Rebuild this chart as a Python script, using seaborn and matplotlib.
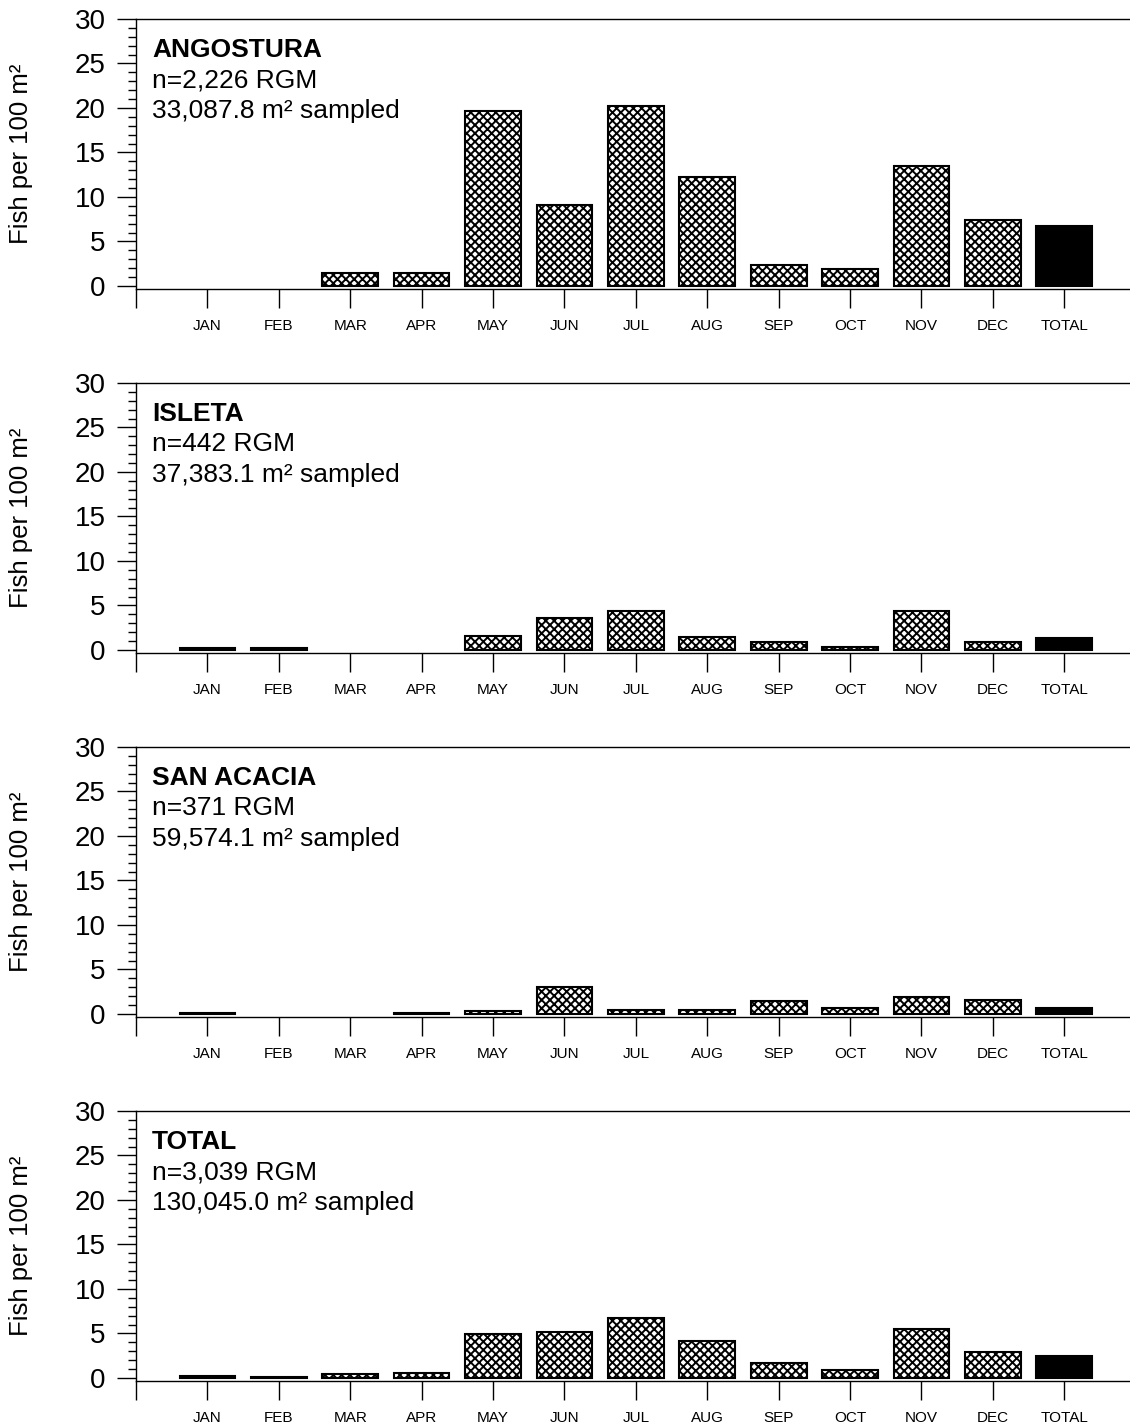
import matplotlib
matplotlib.use("Agg")
import matplotlib.pyplot as plt
from matplotlib.ticker import MultipleLocator
import seaborn as sns
import pandas as pd

months = ["JAN", "FEB", "MAR", "APR", "MAY", "JUN", "JUL", "AUG", "SEP", "OCT", "NOV", "DEC", "TOTAL"]

angostura = [0.0, 0.0, 1.4, 1.5, 19.7, 9.1, 20.2, 12.2, 2.4, 1.9, 13.5, 7.4, 6.7]
isleta = [0.25, 0.2, 0.0, 0.0, 1.6, 3.6, 4.4, 1.5, 0.9, 0.3, 4.4, 0.9, 1.3]
san_acacia = [0.15, 0.0, 0.0, 0.1, 0.3, 3.0, 0.4, 0.45, 1.5, 0.65, 1.9, 1.6, 0.65]
total = [0.2, 0.15, 0.45, 0.6, 4.9, 5.2, 6.7, 4.2, 1.7, 0.9, 5.5, 2.9, 2.5]

titles = ["ANGOSTURA", "ISLETA", "SAN ACACIA", "TOTAL"]
n_lines = ["n=2,226 RGM", "n=442 RGM", "n=371 RGM", "n=3,039 RGM"]
area_lines = ["33,087.8 m\u00b2 sampled", "37,383.1 m\u00b2 sampled",
              "59,574.1 m\u00b2 sampled", "130,045.0 m\u00b2 sampled"]
series = [angostura, isleta, san_acacia, total]

sns.set_theme(style="ticks")
plt.rcParams["font.family"] = ["Liberation Sans", "DejaVu Sans"]
plt.rcParams["text.color"] = "black"
plt.rcParams["axes.labelcolor"] = "black"
plt.rcParams["xtick.color"] = "black"
plt.rcParams["ytick.color"] = "black"
plt.rcParams["axes.edgecolor"] = "black"
plt.rcParams["hatch.linewidth"] = 1.4

W, H = 1130, 1423
fig = plt.figure(figsize=(W / 100, H / 100), dpi=100)

panel_tops = [19, 383, 747, 1111]
ax_h = 270
left_px = 136

for i, vals in enumerate(series):
    top = panel_tops[i]
    ax = fig.add_axes([left_px / W, 1 - (top + ax_h) / H, 1 - left_px / W, ax_h / H])
    df = pd.DataFrame({"month": months, "value": vals})
    sns.barplot(data=df, x="month", y="value", order=months, color="white",
                edgecolor="black", linewidth=1.5, width=0.78, errorbar=None,
                saturation=1, ax=ax)
    for j, p in enumerate(ax.patches):
        if vals[j] == 0:
            p.set_visible(False)
            continue
        if months[j] == "TOTAL":
            p.set_facecolor("black")
        else:
            p.set_facecolor("white")
            p.set_hatch("xxxx")
        p.set_edgecolor("black")

    ax.set_xlim(-1, 12.92)
    ax.set_ylim(-0.35, 30)
    ax.set_xticks(range(-1, 13))
    ax.set_xticklabels([""] + months, fontsize=11)
    ax.set_yticks(range(0, 31, 5))
    ax.set_yticklabels([str(v) for v in range(0, 31, 5)], fontsize=20)
    ax.yaxis.set_minor_locator(MultipleLocator(1))
    ax.tick_params(axis="y", which="major", direction="out", length=13.5, width=1.0, pad=8.5, colors="black")
    ax.tick_params(axis="y", which="minor", direction="out", length=5.8, width=1.0, colors="black")
    ax.tick_params(axis="x", which="major", direction="out", length=13.5, width=1.0, pad=8, colors="black")
    ax.tick_params(axis="x", which="minor", bottom=False)
    for s in ["left", "bottom", "top"]:
        ax.spines[s].set_visible(True)
        ax.spines[s].set_linewidth(1.0)
        ax.spines[s].set_color("black")
    ax.spines["right"].set_visible(False)
    ax.set_xlabel("")
    ax.set_ylabel("Fish per 100 m\u00b2", fontsize=18.5, color="black")
    ax.yaxis.set_label_coords(-0.104, 0.5)

    ax.text(0.0161, 0.859, titles[i], transform=ax.transAxes, fontsize=19,
            fontweight="bold", va="baseline", ha="left", color="black")
    ax.text(0.0161, 0.748, n_lines[i], transform=ax.transAxes, fontsize=19,
            va="baseline", ha="left", color="black")
    ax.text(0.0161, 0.633, area_lines[i], transform=ax.transAxes, fontsize=19,
            va="baseline", ha="left", color="black")

fig.savefig("out.png", dpi=100)
